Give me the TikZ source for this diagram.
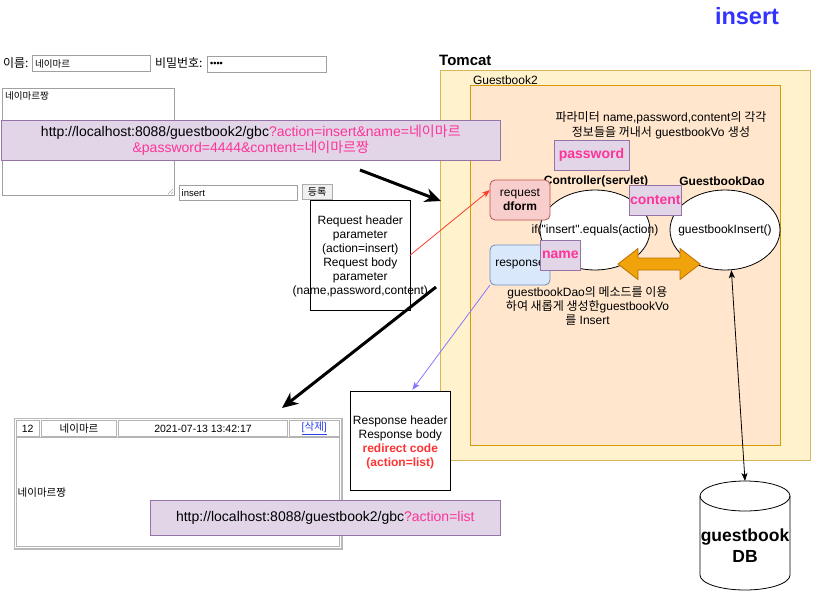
\documentclass[tikz,border=0pt]{standalone}
\usepackage{fontspec}
\setmainfont{Liberation Sans}
\newfontfamily\latn{Liberation Sans}
\newfontfamily\kr{Noto Sans CJK KR}
\usetikzlibrary{arrows.meta,shapes.geometric,calc}
\definecolor{pinkt}{HTML}{FF3399}
\definecolor{redt}{HTML}{FF3333}
\definecolor{bluet}{HTML}{3333FF}
\definecolor{linkc}{HTML}{2A3FEE}
\definecolor{tomfill}{HTML}{FFF2CC}
\definecolor{tomdraw}{HTML}{D6B656}
\definecolor{gbfill}{HTML}{FFE6CC}
\definecolor{gbdraw}{HTML}{D79B00}
\definecolor{purfill}{HTML}{E1D5E7}
\definecolor{purdraw}{HTML}{9673A6}
\definecolor{redfill}{HTML}{F8CECC}
\definecolor{reddraw}{HTML}{B85450}
\definecolor{bluefill}{HTML}{DAE8FC}
\definecolor{bluedraw}{HTML}{6C8EBF}
\definecolor{orfill}{HTML}{F0A30A}
\definecolor{ordraw}{HTML}{BD7000}
\definecolor{formgray}{HTML}{A0A0A0}
\definecolor{cellgray}{HTML}{B4B4B4}
\definecolor{redarrow}{HTML}{FF3B2F}
\definecolor{bluearrow}{HTML}{8577FF}
\begin{document}
\begin{tikzpicture}[x=1pt,y=-1pt,
 txt/.style={inner sep=0pt, outer sep=0pt, align=center, font=\fontsize{12}{14}\selectfont},
 krtxt/.style={inner sep=0pt, outer sep=0pt, font=\kr\fontsize{12}{14}\selectfont},
 rbox/.style={inner sep=0pt, outer sep=0pt, anchor=north west},
 formbox/.style={rbox, draw=formgray, line width=0.8pt, fill=white},
 cellbox/.style={rbox, draw=cellgray, line width=0.8pt},
 purbox/.style={draw=purdraw, fill=purfill, inner sep=0pt, outer sep=0pt, line width=0.8pt},
 tagbox/.style={purbox, text=pinkt, font=\fontsize{14}{16}\selectfont\bfseries},
 plainbox/.style={draw, fill=white, inner sep=0pt, outer sep=0pt, line width=0.8pt},
 thickarrow/.style={line width=3pt, -{Stealth[length=16pt,width=14pt,inset=5pt]}},
 thinarrow/.style={line width=0.8pt, -{Stealth[length=8pt,width=6pt,inset=2pt]}},
]
\useasboundingbox (0,0) rectangle (818,591);

% ---------- title ----------
\node[inner sep=0, text=bluet, font=\bfseries\fontsize{23.5}{28}\selectfont] (title) at (747,16.5) {insert};

% ---------- form ----------
\node[krtxt, anchor=west] (lname) at (3,63) {이름:};
\node[formbox, minimum width=118pt, minimum height=16pt] (in1) at (32,55.5) {};
\node[anchor=west, inner sep=0, font=\kr\fontsize{9.5}{11}\selectfont] (in1t) at (35,63.5) {네이마르};
\node[krtxt, anchor=west] (lpw) at (155,63) {비밀번호:};
\node[formbox, minimum width=118.3pt, minimum height=15.7pt] (in2) at (207.7,56.7) {};
\node[anchor=west, inner sep=0, font=\bfseries\fontsize{9}{10}\selectfont] (in2t) at (210,64.5) {••••};
\node[formbox, minimum width=172.3pt, minimum height=106.6pt] (ta) at (2,88.7) {};
\node[anchor=north west, inner sep=0, font=\kr\fontsize{9.5}{11}\selectfont] (tat) at (5,91) {네이마르짱};
\draw[gray!70, line width=0.5pt] (168,194) -- (173,189) (171,194) -- (173,192);
\node[formbox, minimum width=118.4pt, minimum height=15.4pt] (in3) at (179.3,185.3) {};
\node[anchor=west, inner sep=0, font=\fontsize{9.5}{11}\selectfont] (in3t) at (181.5,193) {insert};
\node[rbox, draw=gray!65, fill=gray!12, line width=0.8pt, minimum width=30pt, minimum height=15.3pt] (btn) at (302,184) {};
\node[inner sep=0, font=\kr\fontsize{10}{12}\selectfont] (btnt) at (btn.center) {등록};

% ---------- Tomcat ----------
\node[rbox, draw=tomdraw, fill=tomfill, line width=0.8pt, minimum width=370.7pt, minimum height=390pt] (tomcat) at (440,70) {};
\node[anchor=west, inner sep=0, font=\bfseries\fontsize{15}{18}\selectfont] (tomlbl) at (439,60) {Tomcat};
\node[rbox, draw=gbdraw, fill=gbfill, line width=0.8pt, minimum width=310.7pt, minimum height=360.7pt] (gb2) at (470,85) {};
\node[txt, anchor=west] (gblbl) at (473,80.5) {Guestbook2};

% ---------- request URL (on top of Tomcat) ----------
\node[purbox, minimum width=499.7pt, minimum height=40pt, align=center, font=\fontsize{14}{15.5}\selectfont] (url1) at (250.8,140)
 {http://localhost:8088/guestbook2/gbc\textcolor{pinkt}{?action=insert\&name={\kr 네이마르}}\\
  \textcolor{pinkt}{\&password=4444\&content={\kr 네이마르짱}}};

\node[txt, font=\fontsize{12}{15}\selectfont] (paramtxt) at (661,125.5)
 {{\kr 파라미터} name,password,content{\kr 의 각각}\\{\kr 정보들을 꺼내서} guestbookVo {\kr 생성}};

\node[ellipse, draw, fill=white, line width=0.8pt, minimum width=110pt, minimum height=80pt, inner sep=0] (ctrl) at (595,230) {};
\node[ellipse, draw, fill=white, line width=0.8pt, minimum width=110pt, minimum height=80pt, inner sep=0] (dao) at (725,230) {};
\node[txt, font=\bfseries\fontsize{12}{14}\selectfont] (ctrllbl) at (596,181) {Controller(servlet)};
\node[txt, font=\bfseries\fontsize{12}{14}\selectfont] (daolbl) at (722,181) {GuestbookDao};
\node[txt, font=\latn\fontsize{12}{14}\selectfont] (ctrltxt) at (595,230.5) {if("insert".equals(action)};
\node[txt] (daotxt) at (725,230.5) {guestbookInsert()};

\node[draw=reddraw, fill=redfill, rounded corners=5pt, line width=0.8pt, minimum width=60pt, minimum height=40pt, inner sep=0, outer sep=0, align=center, font=\fontsize{12}{14}\selectfont] (dform) at (520,200) {request\\\textbf{dform}};
\node[draw=bluedraw, fill=bluefill, rounded corners=5pt, line width=0.8pt, minimum width=60pt, minimum height=40pt, inner sep=0, outer sep=0, font=\fontsize{12}{14}\selectfont] (resp) at (520,265) {response};

\node[tagbox, minimum width=75pt, minimum height=29.3pt] (pwtag) at (591.5,155.3) {password};
\node[tagbox, minimum width=52.7pt, minimum height=30.7pt] (ctag) at (655.3,200.3) {content};
\node[tagbox, minimum width=40.7pt, minimum height=30pt] (ntag) at (560.3,255) {name};

% orange double arrow
\filldraw[fill=orfill, draw=ordraw, line width=0.8pt]
 (618,264) -- (638,248.5) -- (638,258) -- (680,258) -- (680,248.5) -- (700,264)
 -- (680,279.5) -- (680,270) -- (638,270) -- (638,279.5) -- cycle;

\node[txt] (daodesc) at (587.5,306)
 {guestbookDao{\kr 의 메소드를 이용}\\{\kr 하여 새롭게 생성한}guestbookVo\\{\kr 를} Insert};

% ---------- request / response text boxes ----------
\node[plainbox, minimum width=99.3pt, minimum height=109.3pt] (reqhdr) at (360.3,255.3) {};
\node[txt] (reqtxt) at (360.3,256)
 {Request header\\parameter\\(action=insert)\\Request body\\parameter\\(name,password,content)};
\node[plainbox, minimum width=100pt, minimum height=98.3pt] (resphdr) at (400.3,441) {};
\node[txt] (resptxt) at (400.3,442)
 {Response header\\Response body\\\textcolor{redt}{\textbf{redirect code}}\\\textcolor{redt}{\textbf{(action=list)}}};

% ---------- result table ----------
\draw[gray!55, line width=1.6pt] (14.3,418.3) rectangle (341.7,549);
\node[cellbox, minimum width=23.3pt, minimum height=16pt] (c1) at (16,420.7) {};
\node[cellbox, minimum width=75.4pt, minimum height=16pt] (c2) at (41.3,420.7) {};
\node[cellbox, minimum width=169.4pt, minimum height=16pt] (c3) at (118.3,420.7) {};
\node[cellbox, minimum width=50pt, minimum height=16pt] (c4) at (289.3,420.7) {};
\node[cellbox, minimum width=323.3pt, minimum height=108.3pt] (c5) at (16,437.7) {};
\node[inner sep=0, font=\fontsize{10.5}{12}\selectfont] (c1t) at (c1.center) {12};
\node[inner sep=0, font=\kr\fontsize{10.5}{12}\selectfont] (c2t) at (c2.center) {네이마르};
\node[inner sep=0, font=\fontsize{10.5}{12}\selectfont] (c3t) at (c3.center) {2021-07-13 13:42:17};
\node[inner sep=0, text=linkc, font=\fontsize{10.5}{12}\selectfont] (c4t) at (c4.center) {\underline{[{\kr 삭제}]}};
\node[anchor=west, inner sep=0, font=\kr\fontsize{10.5}{12}\selectfont] (c5t) at (17.5,493) {네이마르짱};

\node[purbox, minimum width=350.7pt, minimum height=35.7pt, font=\fontsize{14}{16}\selectfont] (url2) at (325.3,517.8)
 {http://localhost:8088/guestbook2/gbc\textcolor{pinkt}{?action=list}};

% ---------- DB ----------
\node[inner sep=0, outer sep=0, minimum width=90pt, minimum height=109pt, anchor=north] (db) at (745,481) {};
\fill[white] (700,496) -- (700,575) arc[start angle=180, end angle=360, x radius=45pt, y radius=15pt]
 -- (790,496) arc[start angle=0, end angle=180, x radius=45pt, y radius=15pt] -- cycle;
\draw[line width=0.8pt] (700,496) -- (700,575) arc[start angle=180, end angle=360, x radius=45pt, y radius=15pt] -- (790,496);
\draw[line width=0.8pt] (745,496) ellipse [x radius=45pt, y radius=15pt];
\node[inner sep=0, align=center, font=\bfseries\fontsize{17.5}{21}\selectfont] (dbt) at (745,546) {guestbook\\DB};

% ---------- connectors ----------
\coordinate (a1s) at (360,170);
\coordinate (a1e) at (441,201);
\coordinate (a2s) at (436,287);
\coordinate (a2e) at (282,408);
\draw[thickarrow] (a1s) -- (a1e);
\draw[thickarrow] (a2s) -- (a2e);
\draw[thinarrow, draw=redarrow] (reqhdr.east) -- ($(dform.north west)!0.25!(dform.south west)$);
\draw[thinarrow, draw=bluearrow] (resp.south west) -- ($(resphdr.north)+(12,-2)$);
\draw[line width=0.8pt, {Stealth[length=8pt,width=6pt,inset=2pt]}-{Stealth[length=8pt,width=6pt,inset=2pt]}] (dao.-81) -- (db.north);
\end{tikzpicture}
\end{document}
